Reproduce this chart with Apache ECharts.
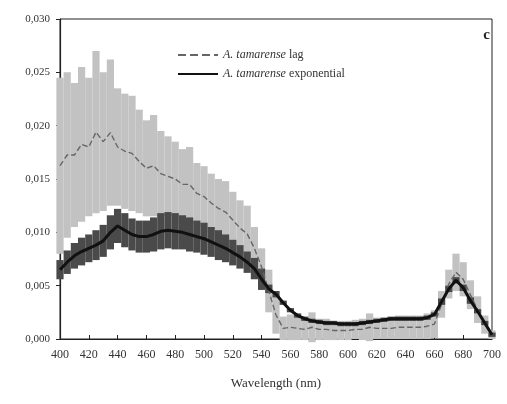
<!DOCTYPE html>
<html><head><meta charset="utf-8">
<script src="https://cdn.jsdelivr.net/npm/echarts@6/dist/echarts.min.js"></script>
<style>html,body{margin:0;padding:0;background:#fff}#c{width:507px;height:404px}</style>
</head><body><div id="c"></div>
<script>
const wavelengths = [400,405,410,415,420,425,430,435,440,445,450,455,460,465,470,475,480,485,490,495,500,505,510,515,520,525,530,535,540,545,550,555,560,565,570,575,580,585,590,595,600,605,610,615,620,625,630,635,640,645,650,655,660,665,670,675,680,685,690,695,700];
const xTicks = [400,420,440,460,480,500,520,540,560,580,600,620,640,660,680,700];
const yTicks = [0,0.005,0.010,0.015,0.020,0.025,0.030];
const lagName = 'A. tamarense lag';
const expName = 'A. tamarense exponential';
const lagMean = [0.01625,0.01725,0.01725,0.01825,0.0180,0.0194,0.0185,0.01935,0.0180,0.0176,0.0174,0.01665,0.0160,0.01625,0.0155,0.01525,0.0150,0.0145,0.0145,0.01365,0.01335,0.01275,0.01225,0.0119,0.01115,0.0104,0.00985,0.0085,0.00675,0.0045,0.00225,0.0010,0.0011,0.0010,0.0009,0.0011,0.0009,0.0009,0.0008,0.0008,0.0008,0.0009,0.0009,0.0011,0.0010,0.0010,0.0010,0.0011,0.0011,0.0011,0.0011,0.0012,0.0014,0.00325,0.00515,0.00625,0.0056,0.00415,0.00275,0.00135,0.0004];
const lagErr = [0.00825,0.00775,0.00675,0.00725,0.0065,0.0076,0.0065,0.00685,0.0055,0.0054,0.0054,0.00485,0.0045,0.00475,0.0040,0.00375,0.0035,0.0033,0.0035,0.00285,0.00285,0.00275,0.00275,0.0029,0.00265,0.0026,0.00265,0.0020,0.00175,0.0020,0.00175,0.0011,0.0012,0.0011,0.0010,0.0014,0.0010,0.0010,0.0009,0.0009,0.0009,0.0009,0.0010,0.0013,0.0010,0.0010,0.0010,0.0011,0.0011,0.0011,0.0011,0.0012,0.0013,0.00125,0.00135,0.00175,0.0016,0.00135,0.00125,0.00085,0.0004];
const expMean = [0.0065,0.0072,0.0078,0.0082,0.0085,0.0088,0.0092,0.0100,0.0106,0.0102,0.0098,0.0096,0.0096,0.0098,0.0101,0.0102,0.0101,0.0100,0.0098,0.0096,0.0094,0.0091,0.0088,0.0085,0.0081,0.0077,0.0072,0.0066,0.0056,0.0047,0.0042,0.0034,0.0027,0.0022,0.0019,0.0017,0.0016,0.0015,0.0015,0.0014,0.0014,0.0014,0.0015,0.0016,0.0017,0.0018,0.0019,0.0019,0.0019,0.0019,0.0019,0.0020,0.0023,0.0035,0.0047,0.0055,0.0048,0.0036,0.0026,0.0015,0.0004];
const expErr = [0.0009,0.0011,0.0012,0.0013,0.0013,0.0014,0.0015,0.0016,0.0016,0.0016,0.0015,0.0015,0.0015,0.0016,0.0017,0.0017,0.0017,0.0016,0.0016,0.0015,0.0015,0.0014,0.0014,0.0013,0.0012,0.0011,0.0010,0.0010,0.0010,0.0004,0.0003,0.0002,0.0002,0.0002,0.0002,0.0002,0.0002,0.0002,0.0002,0.0002,0.0002,0.0002,0.0002,0.0002,0.0002,0.0002,0.0002,0.0002,0.0002,0.0002,0.0002,0.0002,0.0002,0.0003,0.0003,0.0003,0.0003,0.0003,0.0002,0.0002,0.0002];

const SERIF = '"Liberation Serif","DejaVu Serif",serif';
function errData(mean, err){ return wavelengths.map((w,i)=>[w, mean[i]-err[i], mean[i]+err[i]]); }
function errRender(fill){
  return function(params, api){
    const x = api.value(0);
    const a = api.coord([x, api.value(2)]);
    const b = api.coord([x, api.value(1)]);
    const w = api.size([5,0])[0];
    return {type:'rect', shape:{x:a[0]-w/2, y:a[1], width:w, height:Math.max(1,b[1]-a[1])}, style:{fill:fill}};
  };
}
const chart = echarts.init(document.getElementById('c'), null, {renderer:'canvas'});
chart.setOption({
  animation:false,
  backgroundColor:'#fff',
  grid:{left:60,right:15,top:19,bottom:65,show:true,borderColor:'#222',borderWidth:1,backgroundColor:'transparent'},
  legend:{
    orient:'vertical', left:172, top:44, itemWidth:40, itemHeight:12, itemGap:7,
    data:[lagName, expName],
    itemStyle:{opacity:0},
    formatter:function(n){ return n===lagName ? '{i|A. tamarense} lag' : '{i|A. tamarense} exponential'; },
    textStyle:{fontFamily:SERIF,fontSize:12,color:'#333',rich:{i:{fontFamily:SERIF,fontStyle:'italic',fontSize:12,color:'#333'}}}
  },
  graphic:[{type:'text',right:17,top:28,style:{text:'c',font:'bold 15px "Liberation Serif", serif',fill:'#222'}}],
  xAxis:{
    type:'value', min:400, max:700, interval:20,
    name:'Wavelength (nm)', nameLocation:'middle', nameGap:38,
    nameTextStyle:{fontFamily:SERIF,fontSize:13,color:'#333'},
    axisLine:{lineStyle:{color:'#222',width:1.2}},
    axisTick:{inside:true,length:4,lineStyle:{color:'#222'}},
    axisLabel:{fontFamily:SERIF,fontSize:12,color:'#333',margin:10,
      formatter:function(v){ return xTicks.indexOf(v)>=0 ? String(v) : ''; }},
    splitLine:{show:false}
  },
  yAxis:{
    type:'value', min:0, max:0.03, interval:0.005,
    axisLine:{show:true,lineStyle:{color:'#222',width:1.2}},
    axisTick:{show:true,length:4,lineStyle:{color:'#222'}},
    axisLabel:{fontFamily:SERIF,fontSize:11,color:'#333',margin:10,
      formatter:function(v){ const t = yTicks.find(y=>Math.abs(y-v)<1e-9); return t===undefined ? '' : t.toFixed(3).replace('.', ','); }},
    splitLine:{show:false}
  },
  series:[
    {type:'custom', name:'lagErr', renderItem:errRender('#c2c2c2'), data:errData(lagMean, lagErr), encode:{x:0,y:[1,2]}, z:1, silent:true},
    {type:'custom', name:'expErr', renderItem:errRender('#4a4a4a'), data:errData(expMean, expErr), encode:{x:0,y:[1,2]}, z:2, silent:true},
    {type:'line', name:lagName, data:wavelengths.map((w,i)=>[w,lagMean[i]]), symbol:'none', z:3,
      lineStyle:{color:'#666',width:1.4,type:'dashed'}, itemStyle:{color:'#555'}},
    {type:'line', name:expName, data:wavelengths.map((w,i)=>[w,expMean[i]]), symbol:'none', z:4,
      lineStyle:{color:'#111',width:3}, itemStyle:{color:'#111'}}
  ]
});
</script></body></html>
